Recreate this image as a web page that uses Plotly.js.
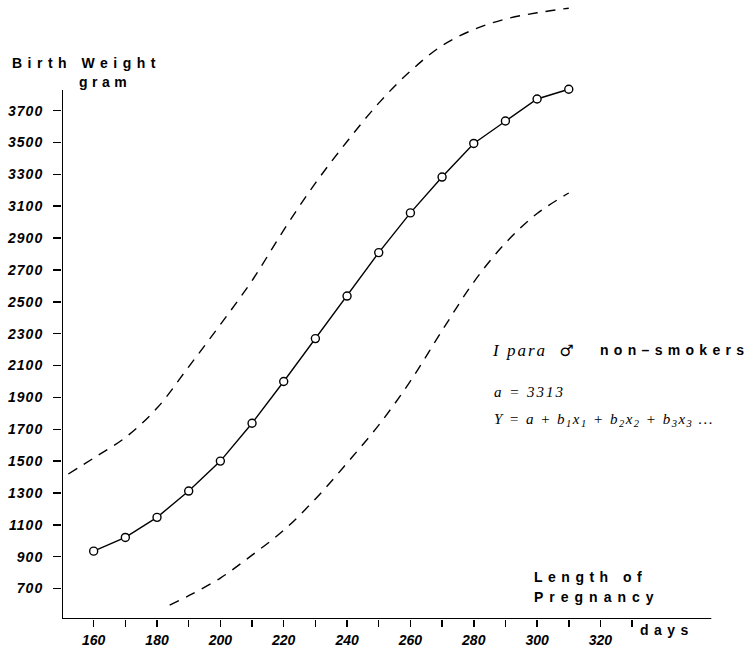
<!DOCTYPE html>
<html>
<head>
<meta charset="utf-8">
<script src="https://cdn.plot.ly/plotly-3.0.1.min.js"></script>
<style>
html,body{margin:0;padding:0;background:#fff;}
#chart{width:755px;height:647px;}
.ytick text{letter-spacing:1px;}
</style>
</head>
<body>
<div id="chart"></div>
<script>
// Mean birth weight (gram) by length of pregnancy (days)
const days = [160,170,180,190,200,210,220,230,240,250,260,270,280,290,300,310];
const weight = [935,1021,1147,1312,1500,1738,2000,2269,2536,2809,3058,3283,3494,3635,3773,3834];

// Upper dashed limit
const upperDays = [152,160,170,180,190,200,210,220,230,240,250,260,270,280,290,300,310];
const upperW = [1419,1519,1648,1833,2092,2357,2633,2950,3245,3506,3747,3948,4108,4209,4275,4314,4343];

// Lower dashed limit
const lowerDays = [184,190,200,210,220,230,240,250,260,270,280,290,300,310];
const lowerW = [596,655,766,910,1066,1262,1488,1726,2002,2319,2624,2869,3054,3183];

// Axis ticks
const xTickVals = [160,180,200,220,240,260,280,300,320];
const xTickText = ['160','180','200','220','240','260','280','300','320'];
const xMinorVals = [170,190,210,230,250,270,290,310,330];
const yTickVals = [700,900,1100,1300,1500,1700,1900,2100,2300,2500,2700,2900,3100,3300,3500,3700];
const yTickText = ['700','900','1100','1300','1500','1700','1900','2100','2300','2500','2700','2900','3100','3300','3500','3700'];

const xMin = 150, xMax = 368.8, yMin = 509, yMax = 4363;
const xAxisEnd = 355, yAxisEnd = 3830;

const dashStyle = {color:'#000', width:1.4, dash:'10px,8px', shape:'spline', smoothing:1};

const traces = [
  {x: upperDays, y: upperW, mode:'lines', line: dashStyle, hoverinfo:'skip', cliponaxis:false},
  {x: lowerDays, y: lowerW, mode:'lines', line: dashStyle, hoverinfo:'skip', cliponaxis:false},
  {x: days, y: weight, mode:'lines+markers',
   line:{color:'#000', width:1.4},
   marker:{symbol:'circle', size:8, color:'#fff', line:{color:'#000', width:1.4}},
   cliponaxis:false}
];

const tickFont = {family:'Liberation Sans, Arial, sans-serif', size:14, color:'#000', weight:'bold', style:'italic'};
const boldFont = {family:'Liberation Sans, Arial, sans-serif', size:14, color:'#000', weight:'bold'};
const scriptFont = {family:'Liberation Serif, Times New Roman, serif', size:15, color:'#000', style:'italic'};

function note(text, x, y, font) {
  return {xref:'paper', yref:'paper', x:x, y:y, xanchor:'left', yanchor:'middle', align:'left', text:text, showarrow:false, font:font};
}

const layout = {
  width:755, height:647,
  margin:{l:62, r:0, t:5, b:28},
  paper_bgcolor:'#fff', plot_bgcolor:'#fff',
  showlegend:false,
  xaxis:{
    range:[xMin, xMax], showgrid:false, zeroline:false, showline:false,
    tickmode:'array', tickvals:xTickVals, ticktext:xTickText,
    ticks:'outside', ticklen:7, tickwidth:1.5, tickcolor:'#000',
    tickfont:tickFont, ticklabelstandoff:1,
    minor:{tickmode:'array', tickvals:xMinorVals, ticks:'outside', ticklen:7, tickwidth:1.5, tickcolor:'#000', showgrid:false}
  },
  yaxis:{
    range:[yMin, yMax], showgrid:false, zeroline:false, showline:false,
    tickmode:'array', tickvals:yTickVals, ticktext:yTickText,
    ticks:'outside', ticklen:8, tickwidth:1.5, tickcolor:'#000',
    tickfont:tickFont, ticklabelstandoff:7
  },
  shapes:[
    {type:'line', xref:'x', yref:'y', x0:xMin, x1:xMin, y0:yMin, y1:yAxisEnd, line:{color:'#000', width:2}},
    {type:'line', xref:'x', yref:'y', x0:xMin, x1:xAxisEnd, y0:yMin, y1:yMin, line:{color:'#000', width:2}}
  ],
  annotations:[
    note('Birth Weight', -0.0750, 0.9063, boldFont),
    note('gram', 0.0216, 0.8746, boldFont),
    note('Length of', 0.6782, 0.0676, boldFont),
    note('Pregnancy', 0.6782, 0.0358, boldFont),
    note('days', 0.8312, -0.0179, boldFont),
    note('I para  <span style="font-family:DejaVu Sans;font-style:normal;font-size:16px">\u2642</span>', 0.6176, 0.4381, {family:'Liberation Serif, DejaVu Serif, serif', size:17, color:'#000', style:'italic'}),
    note('non\u2013smokers', 0.7734, 0.4381, boldFont),
    note('a = 3313', 0.6201, 0.3702, scriptFont),
    note('Y = a + b<sub>1</sub>x<sub>1</sub> + b<sub>2</sub>x<sub>2</sub> + b<sub>3</sub>x<sub>3</sub> ...', 0.6201, 0.3241, scriptFont)
  ]
};

const spacing = {0:'5.5px', 1:'4.5px', 2:'5.5px', 3:'6px', 4:'5.5px', 5:'2px', 6:'5.3px', 7:'2px', 8:'1.5px'};

Plotly.newPlot('chart', traces, layout, {displayModeBar:false, staticPlot:true}).then(function(gd){
  gd.querySelectorAll('g.annotation').forEach(function(g){
    const idx = g.getAttribute('data-index');
    if (spacing[idx]) {
      const t = g.querySelector('text.annotation-text');
      if (t) t.style.letterSpacing = spacing[idx];
    }
  });
});
</script>
</body>
</html>
